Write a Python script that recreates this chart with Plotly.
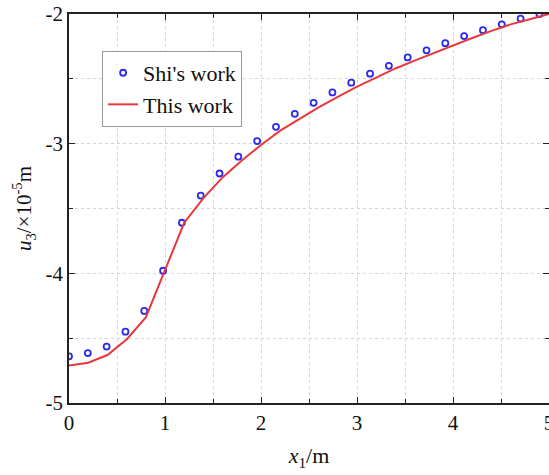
import plotly.graph_objects as go

# Shi's work (open circles)
shi_x = [0.0, 0.196, 0.392, 0.588, 0.784, 0.98, 1.176, 1.372, 1.568, 1.764,
         1.96, 2.156, 2.352, 2.548, 2.744, 2.94, 3.136, 3.332, 3.528, 3.724,
         3.92, 4.116, 4.312, 4.508, 4.704, 4.9]
shi_y = [-4.64, -4.615, -4.565, -4.45, -4.29, -3.98, -3.61, -3.40, -3.23, -3.10,
         -2.98, -2.87, -2.77, -2.685, -2.605, -2.53, -2.46, -2.40, -2.335, -2.28,
         -2.225, -2.17, -2.125, -2.08, -2.035, -2.0]

# This work (line)
this_x = [0.0, 0.2, 0.4, 0.6, 0.8, 1.0, 1.2, 1.4, 1.6, 1.8, 2.0, 2.2, 2.4, 2.6,
          2.8, 3.0, 3.2, 3.4, 3.6, 3.8, 4.0, 4.2, 4.4, 4.6, 4.8, 5.0]
this_y = [-4.71, -4.69, -4.63, -4.51, -4.34, -3.97, -3.61, -3.42, -3.26, -3.13,
          -3.01, -2.90, -2.81, -2.72, -2.64, -2.56, -2.49, -2.42, -2.36, -2.30,
          -2.24, -2.185, -2.13, -2.08, -2.04, -2.00]

x_ticks = [0, 1, 2, 3, 4, 5]
y_ticks = [-5, -4, -3, -2]

FONT = "Liberation Serif"

fig = go.Figure()
fig.add_trace(go.Scatter(
    x=shi_x, y=shi_y, mode="markers", name="Shi's work",
    marker=dict(symbol="circle-open", size=6, color="#2a2af0", line=dict(width=1.8, color="#2a2af0")),
))
fig.add_trace(go.Scatter(
    x=this_x, y=this_y, mode="lines", name="This work",
    line=dict(color="#e8383d", width=2),
))

axis_common = dict(
    showline=True, linecolor="#222", linewidth=1.5, mirror="ticks",
    ticks="inside", ticklen=6, tickwidth=1.2, tickcolor="#222",
    showgrid=True, gridcolor="#d6d6d6", griddash="dot", gridwidth=1,
    zeroline=False, ticklabeloverflow="allow", automargin=False,
    tickfont=dict(family=FONT, size=21, color="#111"),
    minor=dict(ticks="inside", ticklen=4, tickcolor="#222", dtick=0.5,
               showgrid=True, gridcolor="#d6d6d6", griddash="dot"),
)

fig.update_xaxes(
    range=[0, 5], tickvals=x_ticks, ticktext=[str(v) for v in x_ticks],
    title=dict(text="<i>x</i><sub>1</sub>/m", font=dict(family=FONT, size=22, color="#111"), standoff=14),
    **axis_common,
)
fig.update_yaxes(
    range=[-5, -2], tickvals=y_ticks, ticktext=[str(v) for v in y_ticks],
    title=dict(text="<i>u</i><sub>3</sub>/×10<sup>-5</sup>m", font=dict(family=FONT, size=21, color="#111"), standoff=8),
    **axis_common,
)

fig.update_layout(
    width=549, height=475,
    margin=dict(l=69, r=0, t=14, b=72),
    plot_bgcolor="white", paper_bgcolor="white",
    font=dict(family=FONT, size=21, color="#111"),
    legend=dict(
        x=0.069, y=0.905, xanchor="left", yanchor="top",
        bgcolor="white", bordercolor="#999", borderwidth=1,
        font=dict(family=FONT, size=22, color="#111"),
        tracegroupgap=0,
    ),
)

fig.write_html("out.html")
